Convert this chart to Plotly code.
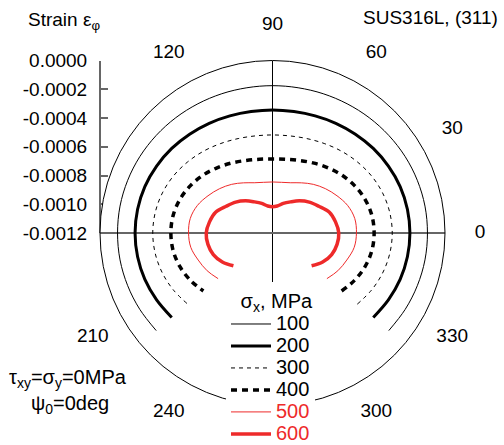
import plotly.graph_objects as go

# ---- data ----
theta_deg = [-40, -30, -20, -10, 0, 10, 20, 30, 40, 50, 60, 70, 80, 90,
             100, 110, 120, 130, 140, 150, 160, 170, 180, 190, 200, 210, 220]

strain_100 = [-0.000144, -0.000135, -0.000128, -0.000123, -0.000122, -0.000123, -0.000128,
              -0.000135, -0.000144, -0.000153, -0.000162, -0.000169, -0.000174, -0.000175,
              -0.000174, -0.000169, -0.000162, -0.000153, -0.000144, -0.000135, -0.000128,
              -0.000123, -0.000122, -0.000123, -0.000128, -0.000135, -0.000144]
strain_200 = [-0.000285, -0.000269, -0.000255, -0.000247, -0.000244, -0.000247, -0.000255,
              -0.000269, -0.000285, -0.000303, -0.000319, -0.000333, -0.000342, -0.000344,
              -0.000342, -0.000333, -0.000319, -0.000303, -0.000285, -0.000269, -0.000255,
              -0.000247, -0.000244, -0.000247, -0.000255, -0.000269, -0.000285]
strain_300 = [-0.000430, -0.000405, -0.000385, -0.000372, -0.000367, -0.000372, -0.000385,
              -0.000405, -0.000430, -0.000456, -0.000481, -0.000501, -0.000514, -0.000518,
              -0.000514, -0.000501, -0.000481, -0.000456, -0.000430, -0.000405, -0.000385,
              -0.000372, -0.000367, -0.000372, -0.000385, -0.000405, -0.000430]
strain_400 = [-0.000572, -0.000541, -0.000515, -0.000498, -0.000493, -0.000498, -0.000515,
              -0.000541, -0.000572, -0.000606, -0.000637, -0.000663, -0.000679, -0.000685,
              -0.000679, -0.000663, -0.000637, -0.000606, -0.000572, -0.000541, -0.000515,
              -0.000498, -0.000493, -0.000498, -0.000515, -0.000541, -0.000572]
strain_500 = [-0.000706, -0.000675, -0.000650, -0.000623, -0.000616, -0.000619, -0.000643,
              -0.000682, -0.000720, -0.000758, -0.000797, -0.000828, -0.000842, -0.000845,
              -0.000842, -0.000828, -0.000797, -0.000758, -0.000720, -0.000682, -0.000643,
              -0.000619, -0.000616, -0.000623, -0.000650, -0.000675, -0.000706]
strain_600 = [-0.000845, -0.000797, -0.000762, -0.000744, -0.000739, -0.000755, -0.000779,
              -0.000828, -0.000866, -0.000908, -0.000950, -0.000981, -0.001009, -0.001017,
              -0.001009, -0.000981, -0.000950, -0.000908, -0.000866, -0.000828, -0.000779,
              -0.000755, -0.000739, -0.000744, -0.000762, -0.000797, -0.000845]

series_names = ["100", "200", "300", "400", "500", "600"]
series_values = [strain_100, strain_200, strain_300, strain_400, strain_500, strain_600]

r_min, r_max = -0.0012, 0.0
angle_ticks = [0, 30, 60, 90, 120, 210, 240, 300, 330]
angle_ticktext = ["0", "30", "60", "90", "120", "210", "240", "300", "330"]
radial_ticks = [0.0, -0.0002, -0.0004, -0.0006, -0.0008, -0.0010, -0.0012]
radial_ticktext = ["0.0000", "-0.0002", "-0.0004", "-0.0006", "-0.0008", "-0.0010", "-0.0012"]

RED = "#ee2a2a"
styles = [
    dict(color="black", width=1, dash="solid"),
    dict(color="black", width=3, dash="solid"),
    dict(color="black", width=1, dash="4px,4px"),
    dict(color="black", width=3.5, dash="6px,5px"),
    dict(color=RED, width=1, dash="solid"),
    dict(color=RED, width=3.5, dash="solid"),
]
FONT = "Liberation Sans, Arial, sans-serif"

W, H = 504, 445
cx, cy, R = 272.5, 233.0, 172.5     # plot circle (pixels)
R_LAB = 207.5                        # ring on which the angle labels sit (pixels)

fig = go.Figure()

# cross-hair lines through the centre
fig.add_trace(go.Scatterpolar(theta=[90, 270], r=[r_max, r_max], mode="lines",
                              line=dict(color="black", width=1), showlegend=False,
                              hoverinfo="skip"))
fig.add_trace(go.Scatterpolar(theta=[180, 0], r=[r_max, r_max], mode="lines",
                              line=dict(color="#666666", width=2), showlegend=False,
                              hoverinfo="skip"))

for name, vals, st in zip(series_names, series_values, styles):
    label = name
    if st["color"] == RED:
        label = f'<span style="color:{RED}">{name}</span>'
    fig.add_trace(go.Scatterpolar(theta=theta_deg, r=vals, mode="lines",
                                  line=dict(color=st["color"], width=st["width"],
                                            dash=st["dash"], shape="spline"),
                                  name=f'<span style="font-size:20px">{label}</span>'))

# angle labels, centred on the rim of a second (invisible) concentric polar frame
fig.add_trace(go.Scatterpolar(theta=angle_ticks, r=[1] * len(angle_ticks), subplot="polar2",
                              mode="text", text=angle_ticktext, textposition="middle center",
                              textfont=dict(family=FONT, size=19, color="black"),
                              cliponaxis=False, showlegend=False, hoverinfo="skip"))

# invisible trace carrying the left strain axis
fig.add_trace(go.Scatter(x=[0], y=[r_min], mode="markers", marker=dict(opacity=0),
                         showlegend=False, hoverinfo="skip", xaxis="x", yaxis="y"))

fig.update_layout(
    width=W, height=H,
    margin=dict(l=0, r=0, t=0, b=0, autoexpand=False),
    paper_bgcolor="white", plot_bgcolor="white",
    font=dict(family=FONT, size=19, color="black"),
    polar=dict(
        domain=dict(x=[(cx - R) / W, (cx + R) / W],
                    y=[(H - cy - R) / H, (H - cy + R) / H]),
        bgcolor="white",
        radialaxis=dict(range=[r_min, r_max], showline=False, showgrid=False,
                        showticklabels=False, ticks=""),
        angularaxis=dict(rotation=0, direction="counterclockwise",
                         showgrid=False, showline=True, linecolor="black", linewidth=1,
                         ticks="", showticklabels=False),
    ),
    polar2=dict(
        domain=dict(x=[(cx - R_LAB) / W, (cx + R_LAB) / W],
                    y=[(H - cy - R_LAB) / H, (H - cy + R_LAB) / H]),
        bgcolor="rgba(0,0,0,0)",
        radialaxis=dict(range=[0, 1], visible=False),
        angularaxis=dict(rotation=0, direction="counterclockwise", visible=False,
                         showgrid=False, showline=False),
    ),
    xaxis=dict(visible=False, domain=[0.9, 1.0], range=[0, 1]),
    yaxis=dict(domain=[(H - cy) / H, (H - cy + R) / H], range=[r_min, r_max],
               anchor="free", position=(cx - R) / W, side="left",
               tickmode="array", tickvals=radial_ticks, ticktext=radial_ticktext,
               ticks="inside", ticklen=7, tickcolor="#666666", tickwidth=1.5,
               showline=True, linecolor="#666666", linewidth=2,
               showgrid=False, zeroline=False, ticklabelstandoff=8,
               tickfont=dict(family=FONT, size=19, color="black")),
    legend=dict(x=226 / W, y=(H - 282) / H, xanchor="left", yanchor="top",
                bgcolor="white", borderwidth=0, itemwidth=40,
                font=dict(family=FONT, size=14.6, color="black"),
                title=dict(text="σ<sub>x</sub>, MPa", side="top right",
                           font=dict(family=FONT, size=20, color="black"))),
    showlegend=True,
)

ann = [
    dict(text="Strain ε<sub>φ</sub>", x=26 / W, y=(H - 21) / H, xanchor="left", yanchor="middle"),
    dict(text="SUS316L, (311)", x=500 / W, y=(H - 17) / H, xanchor="right", yanchor="middle"),
    dict(text="τ<sub>xy</sub>=σ<sub>y</sub>=0MPa", x=7 / W, y=(H - 378) / H, xanchor="left", yanchor="middle"),
    dict(text="ψ<sub>0</sub>=0deg", x=29 / W, y=(H - 404) / H, xanchor="left", yanchor="middle"),
]
for a in ann:
    fig.add_annotation(xref="paper", yref="paper", showarrow=False,
                       font=dict(family=FONT, size=20 if a["text"][0] in "τψ" else 19,
                                 color="black"), **a)

fig.write_html("out.html", config={"displayModeBar": False})
